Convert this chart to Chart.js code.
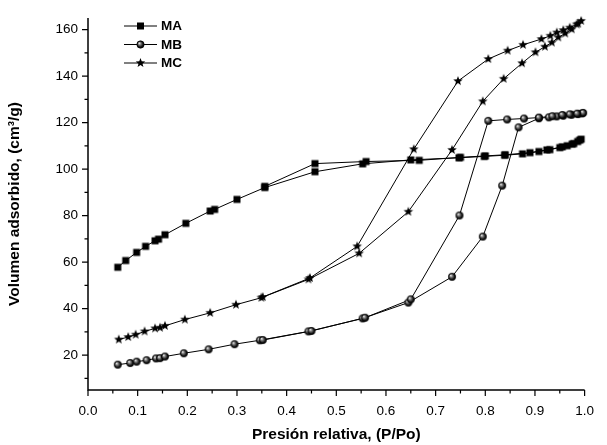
<!DOCTYPE html>
<html>
<head>
<meta charset="utf-8">
<script src="https://cdn.jsdelivr.net/npm/chart.js@4.4.1/dist/chart.umd.min.js"></script>
<style>
	html, body { margin: 0; padding: 0; background: #fff; }
	#wrap { width: 607px; height: 445px; }
</style>
</head>
<body>
<div id="wrap"><canvas id="isoChart" width="607" height="445"></canvas></div>
<script>
// isotermas: rama de adsorcion seguida de la rama de desorcion (P/Po, cm3/g)
const maX = [0.060, 0.076, 0.098, 0.116, 0.135, 0.142, 0.155, 0.197, 0.246, 0.255, 0.300, 0.356, 0.457, 0.553, 0.650, 0.747, 0.798, 0.839, 0.875, 0.908, 0.930, 0.950, 0.965, 0.978, 0.986, 0.993,
	0.990, 0.975, 0.955, 0.924, 0.890, 0.840, 0.800, 0.750, 0.667, 0.560, 0.457, 0.356];
const maY = [57.8, 60.7, 64.2, 66.8, 69.2, 69.9, 71.8, 76.7, 82.0, 82.7, 87.0, 92.1, 98.9, 102.3, 104.0, 104.9, 105.5, 106.0, 106.6, 107.6, 108.4, 109.3, 110.1, 111.0, 111.9, 112.9,
	112.5, 110.8, 109.6, 108.3, 107.1, 106.2, 105.7, 105.1, 103.8, 103.3, 102.4, 92.6];

const mbX = [0.060, 0.085, 0.098, 0.118, 0.137, 0.145, 0.155, 0.193, 0.243, 0.295, 0.346, 0.444, 0.553, 0.645, 0.733, 0.795, 0.834, 0.867, 0.908, 0.928, 0.944, 0.957, 0.974, 0.987, 0.995,
	0.997, 0.985, 0.970, 0.955, 0.935, 0.908, 0.878, 0.844, 0.806, 0.748, 0.650, 0.558, 0.450, 0.352];
const mbY = [15.9, 16.6, 17.2, 17.8, 18.6, 18.7, 19.4, 20.8, 22.5, 24.7, 26.4, 30.2, 35.8, 42.6, 53.7, 71.0, 92.9, 118.0, 121.9, 122.3, 122.7, 123.0, 123.4, 123.7, 124.0,
	124.2, 123.9, 123.6, 123.3, 122.8, 122.2, 121.8, 121.4, 120.8, 80.1, 44.0, 36.1, 30.4, 26.5];

const mcX = [0.062, 0.081, 0.096, 0.114, 0.135, 0.145, 0.155, 0.195, 0.246, 0.298, 0.349, 0.444, 0.546, 0.645, 0.733, 0.795, 0.837, 0.874, 0.901, 0.920, 0.934, 0.947, 0.961, 0.974, 0.987,
	0.993, 0.984, 0.970, 0.957, 0.944, 0.931, 0.913, 0.876, 0.845, 0.806, 0.745, 0.656, 0.542, 0.447, 0.352];
const mcY = [26.7, 27.8, 28.8, 30.2, 31.5, 31.8, 32.6, 35.3, 38.2, 41.7, 44.7, 52.6, 63.8, 81.7, 108.3, 129.2, 138.9, 145.6, 150.3, 152.7, 154.5, 156.7, 158.4, 160.2, 162.6,
	163.8, 162.3, 160.9, 159.8, 158.8, 157.4, 156.0, 153.5, 151.0, 147.4, 137.9, 108.6, 66.8, 53.2, 45.0];

const seriesNames = ['MA', 'MB', 'MC'];
const xTicks = [0.0, 0.1, 0.2, 0.3, 0.4, 0.5, 0.6, 0.7, 0.8, 0.9, 1.0];
const yTicks = [20, 40, 60, 80, 100, 120, 140, 160];

const FONT = '"Liberation Sans", Arial, sans-serif';

document.addEventListener('DOMContentLoaded', function()
{
	drawIsotherms();
});

function toPoints(xs, ys)
{
	return xs.map((x, i) => ({ x: x, y: ys[i] }));
}

// marcadores dibujados a mano (cuadrado, esfera, estrella)
function paintMarker(ctx, kind, cx, cy)
{
	ctx.fillStyle = '#000';
	if (kind === 'square') {
		ctx.fillRect(cx - 3.5, cy - 3.5, 7, 7);
	} else if (kind === 'ball') {
		let g = ctx.createRadialGradient(cx - 1.3, cy - 1.4, 0.2, cx, cy, 3.8);
		g.addColorStop(0, '#f2f2f2');
		g.addColorStop(0.35, '#777');
		g.addColorStop(0.75, '#111');
		g.addColorStop(1, '#000');
		ctx.fillStyle = g;
		ctx.beginPath();
		ctx.arc(cx, cy, 3.7, 0, Math.PI * 2);
		ctx.fill();
		ctx.strokeStyle = '#000';
		ctx.lineWidth = 0.6;
		ctx.stroke();
	} else {
		ctx.beginPath();
		for (let i = 0; i < 10; i++) {
			let r = (i % 2 === 0) ? 5 : 2.1;
			let a = -Math.PI / 2 + i * Math.PI / 5;
			let px = cx + r * Math.cos(a);
			let py = cy + r * Math.sin(a);
			if (i === 0) ctx.moveTo(px, py); else ctx.lineTo(px, py);
		}
		ctx.closePath();
		ctx.fill();
	}
}

function makeMarker(kind)
{
	let c = document.createElement('canvas');
	c.width = 12;
	c.height = 12;
	paintMarker(c.getContext('2d'), kind, 6, 6);
	return c;
}

const markerKinds = ['square', 'ball', 'star'];

// ejes al estilo Origin: solo izquierda y abajo, ticks hacia fuera con menores
const axesPlugin = {
	id: 'originAxes',
	beforeDatasetsDraw(chart) {
		const ctx = chart.ctx;
		const xs = chart.scales.x;
		const ys = chart.scales.y;
		const area = chart.chartArea;
		ctx.save();
		ctx.strokeStyle = '#000';
		ctx.lineWidth = 1.5;
		ctx.beginPath();
		ctx.moveTo(area.left, area.top);
		ctx.lineTo(area.left, area.bottom);
		ctx.lineTo(area.right, area.bottom);
		ctx.stroke();

		ctx.lineWidth = 1.2;
		ctx.beginPath();
		xTicks.forEach((v, i) => {
			let px = xs.getPixelForValue(v);
			ctx.moveTo(px, area.bottom);
			ctx.lineTo(px, area.bottom + 6);
			if (i < xTicks.length - 1) {
				let mx = xs.getPixelForValue((v + xTicks[i + 1]) / 2);
				ctx.moveTo(mx, area.bottom);
				ctx.lineTo(mx, area.bottom + 3.5);
			}
		});
		yTicks.forEach((v, i) => {
			let py = ys.getPixelForValue(v);
			ctx.moveTo(area.left, py);
			ctx.lineTo(area.left - 6, py);
			// menores: uno por debajo de cada mayor
			let my = ys.getPixelForValue(v - 10);
			ctx.moveTo(area.left, my);
			ctx.lineTo(area.left - 3.5, my);
		});
		ctx.stroke();
		ctx.restore();
	}
};

// leyenda tipo "—■— MA"
const legendPlugin = {
	id: 'lineLegend',
	afterDatasetsDraw(chart) {
		const ctx = chart.ctx;
		const rows = [26, 44.5, 63];
		ctx.save();
		chart.data.datasets.forEach((ds, i) => {
			let y = rows[i];
			ctx.strokeStyle = '#000';
			ctx.lineWidth = 1;
			ctx.beginPath();
			ctx.moveTo(124, y);
			ctx.lineTo(157, y);
			ctx.stroke();
			paintMarker(ctx, markerKinds[i], 140.5, y);
			ctx.fillStyle = '#000';
			ctx.font = 'bold 13.5px ' + FONT;
			ctx.textBaseline = 'middle';
			ctx.textAlign = 'left';
			ctx.fillText(ds.label, 161, y + 0.5);
		});
		ctx.restore();
	}
};

function drawIsotherms()
{
	const ctx = document.getElementById('isoChart').getContext('2d');
	const sets = [[maX, maY], [mbX, mbY], [mcX, mcY]];

	const datasets = sets.map((s, i) => ({
		label: seriesNames[i],
		data: toPoints(s[0], s[1]),
		showLine: true,
		borderColor: '#000',
		borderWidth: 1,
		backgroundColor: '#000',
		pointStyle: makeMarker(markerKinds[i]),
		pointRadius: 4,
		tension: 0,
		clip: false
	}));

	new Chart(ctx, {
		type: 'scatter',
		data: { datasets: datasets },
		plugins: [axesPlugin, legendPlugin],
		options: {
			responsive: false,
			animation: false,
			devicePixelRatio: 1,
			layout: { padding: { top: 15, right: 12, left: 0, bottom: 0 } },
			plugins: {
				legend: { display: false },
				tooltip: { enabled: false }
			},
			scales: {
				x: {
					type: 'linear',
					min: 0,
					max: 1,
					afterBuildTicks: scale => { scale.ticks = xTicks.map(v => ({ value: v })); },
					afterFit: scale => { scale.height = 55; },
					grid: { display: false, drawTicks: false },
					border: { display: false },
					ticks: {
						padding: 13,
						color: '#000',
						autoSkip: false,
						maxRotation: 0,
						font: { family: FONT, size: 13.5 },
						callback: v => Number(v).toFixed(1)
					},
					title: {
						display: true,
						text: 'Presión relativa, (P/Po)',
						color: '#000',
						font: { family: FONT, size: 15.5, weight: 'bold' },
						padding: { top: 0, bottom: 0.7 }
					}
				},
				y: {
					type: 'linear',
					min: 5,
					max: 165,
					afterBuildTicks: scale => { scale.ticks = yTicks.map(v => ({ value: v })); },
					afterFit: scale => { scale.width = 88; },
					grid: { display: false, drawTicks: false },
					border: { display: false },
					ticks: {
						padding: 10,
						color: '#000',
						autoSkip: false,
						font: { family: FONT, size: 13.5 },
						callback: v => v
					},
					title: {
						display: true,
						text: 'Volumen adsorbido, (cm³/g)',
						color: '#000',
						font: { family: FONT, size: 15.5, weight: 'bold' },
						padding: { top: 5.7, bottom: 0 }
					}
				}
			}
		}
	});
}
</script>
</body>
</html>
